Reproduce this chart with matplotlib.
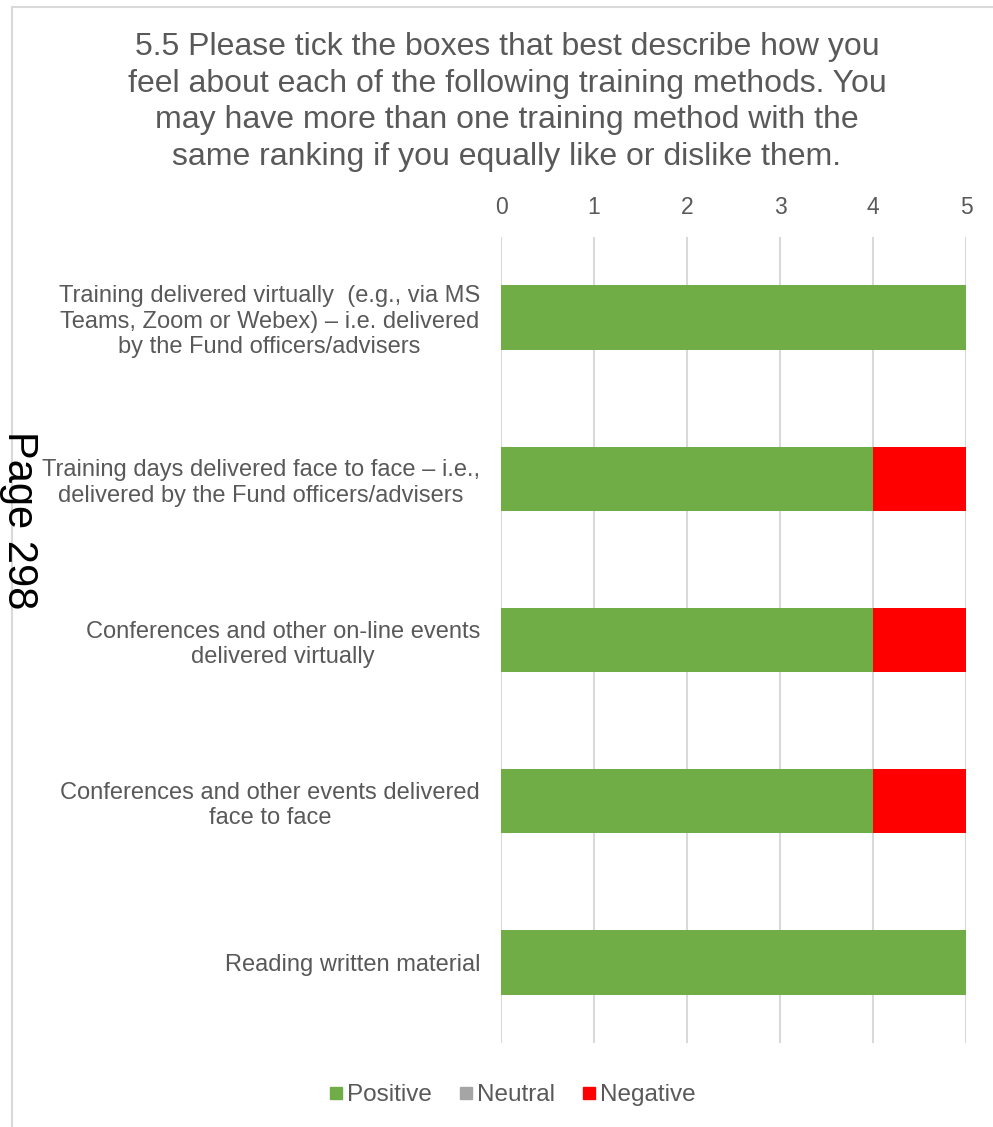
import matplotlib
matplotlib.use('Agg')
import matplotlib.pyplot as plt
from matplotlib.lines import Line2D
import numpy as np

plt.rcParams['font.family'] = ['Liberation Sans', 'DejaVu Sans']

# ---- survey responses (Q5.5) ----
methods = [
    "Training delivered virtually  (e.g., via MS\nTeams, Zoom or Webex) \u2013 i.e. delivered\nby the Fund officers/advisers",
    "Training days delivered face to face \u2013 i.e.,\ndelivered by the Fund officers/advisers",
    "Conferences and other on-line events\ndelivered virtually",
    "Conferences and other events delivered\nface to face",
    "Reading written material",
]
positive = [5, 4, 4, 4, 5]
neutral = [0, 0, 0, 0, 0]
negative = [0, 1, 1, 1, 0]

title = ("5.5 Please tick the boxes that best describe how you\n"
         "feel about each of the following training methods. You\n"
         "may have more than one training method with the\n"
         "same ranking if you equally like or dislike them.")

c_pos, c_neu, c_neg = '#70AD47', '#A5A5A5', '#FF0000'
txt = '#595959'
grid = '#D9D9D9'

W, H = 993, 1127
fig = plt.figure(figsize=(W / 100, H / 100), dpi=100)
ax = fig.add_axes([501 / W, 1 - 1043 / H, (966 - 501) / W, (1043 - 237) / H])

y = np.arange(len(methods))
pos = np.array(positive)
neu = np.array(neutral)
neg = np.array(negative)
ax.barh(y, pos, height=0.4, color=c_pos, zorder=3)
ax.barh(y, neu, left=pos, height=0.4, color=c_neu, zorder=3)
ax.barh(y, neg, left=pos + neu, height=0.4, color=c_neg, zorder=3)

ax.set_xlim(0, 5)
ax.set_ylim(len(methods) - 0.5, -0.5)
ax.xaxis.tick_top()
ax.set_xticks(range(6))
ax.tick_params(axis='x', length=0, pad=13, labelsize=16.5, labelcolor=txt)
ax.set_yticks(y)
ax.set_yticklabels(methods, fontsize=17, color=txt, multialignment='center',
                   linespacing=1.2)
ax.tick_params(axis='y', length=0, pad=15)
ax.grid(axis='x', color=grid, lw=1.5, zorder=0)
for s in ax.spines.values():
    s.set_visible(False)

fig.text(507 / W, 1 - 102 / H, title, ha='center', va='center', fontsize=23,
         color=txt, linespacing=1.3)

# legend along the bottom
handles = [Line2D([], [], marker='s', ls='', color=c, markersize=9)
           for c in (c_pos, c_neu, c_neg)]
fig.legend(handles, ['Positive', 'Neutral', 'Negative'], loc='center',
           bbox_to_anchor=(512 / W, 1 - 1095 / H), ncol=3, frameon=False,
           fontsize=17.5, handlelength=0.6, handletextpad=0.15, columnspacing=1.1,
           labelcolor=txt)

# chart frame (left and top edges)
fig.add_artist(Line2D([12 / W, 12 / W], [0, 1 - 7 / H], color=grid, lw=1.5))
fig.add_artist(Line2D([12 / W, 1], [1 - 7 / H, 1 - 7 / H], color=grid, lw=1.5))

fig.text(19 / W, 1 - 520 / H, 'Page 298', rotation=-90, ha='center', va='center',
         fontsize=30, color='black')

fig.savefig('out.png', dpi=100, facecolor='white')
